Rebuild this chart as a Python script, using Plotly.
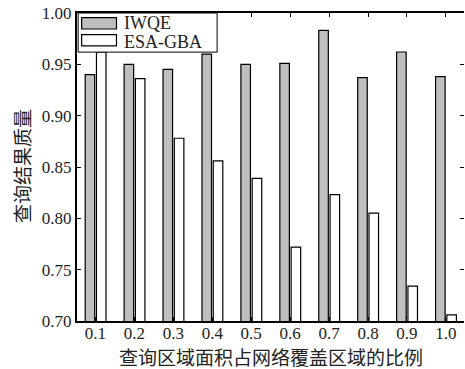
import plotly.graph_objects as go

categories = [0.1, 0.2, 0.3, 0.4, 0.5, 0.6, 0.7, 0.8, 0.9, 1.0]
tick_labels = ["0.1", "0.2", "0.3", "0.4", "0.5", "0.6", "0.7", "0.8", "0.9", "1.0"]
series_names = ["IWQE", "ESA-GBA"]
iwqe = [0.940, 0.950, 0.945, 0.960, 0.950, 0.951, 0.983, 0.937, 0.962, 0.938]
esa_gba = [0.962, 0.936, 0.878, 0.856, 0.839, 0.772, 0.823, 0.805, 0.734, 0.706]
y_ticks = [0.70, 0.75, 0.80, 0.85, 0.90, 0.95, 1.00]
y_tick_labels = ["0.70", "0.75", "0.80", "0.85", "0.90", "0.95", "1.00"]
x_title = "查询区域面积占网络覆盖区域的比例"
y_title = "查询结果质量"

GRAY = "#bebfc3"
SERIF = "Liberation Serif"
CJK = "Noto Sans CJK SC"

fig = go.Figure()
fig.add_trace(go.Bar(x=categories, y=iwqe, name=series_names[0], width=0.0245, offset=-0.0265,
                     marker=dict(color=GRAY, line=dict(color="black", width=1.2)), showlegend=False))
fig.add_trace(go.Bar(x=categories, y=esa_gba, name=series_names[1], width=0.0245, offset=0.0025,
                     marker=dict(color="white", line=dict(color="black", width=1.2)), showlegend=False))
# invisible helper trace for right-side mirrored ticks
fig.add_trace(go.Scatter(x=[categories[0]], y=[y_ticks[0]], yaxis="y2", mode="markers",
                         marker=dict(opacity=0), showlegend=False, hoverinfo="skip"))

xr = [0.0525, 1.0465]
yr = [0.70, 1.00]
fig.update_layout(
    width=465, height=369,
    margin=dict(l=77, r=1, t=13, b=48),
    paper_bgcolor="white", plot_bgcolor="white",
    barmode="overlay",
    xaxis=dict(range=xr, tickvals=categories, ticktext=tick_labels, ticks="inside", ticklen=4,
               tickwidth=1, tickcolor="black", showline=True, linewidth=2, linecolor="black",
               mirror="ticks", showgrid=False, zeroline=False, ticklabelstandoff=-4,
               tickfont=dict(family=SERIF, size=17, color="#222")),
    yaxis=dict(range=yr, tickvals=y_ticks, ticktext=y_tick_labels, ticks="inside", ticklen=4,
               tickwidth=1, tickcolor="black", showline=True, linewidth=2, linecolor="black",
               showgrid=False, zeroline=False,
               tickfont=dict(family=SERIF, size=17, color="#222")),
    yaxis2=dict(range=yr, overlaying="y", side="right", tickvals=y_ticks, ticks="inside",
                ticklen=4, tickwidth=1, tickcolor="black", showticklabels=False,
                showline=False, showgrid=False, zeroline=False),
)

# axis titles
fig.add_annotation(text=x_title, xref="paper", yref="paper", x=0.5, y=-0.114,
                   xanchor="center", yanchor="middle", showarrow=False,
                   font=dict(family=CJK, size=19, color="#222"))
fig.add_annotation(text=y_title, xref="paper", yref="paper", x=-0.145, y=0.503,
                   xanchor="center", yanchor="middle", textangle=-90, showarrow=False,
                   font=dict(family=CJK, size=19, color="#222"))

# legend (drawn manually to match wide patches)
fig.add_shape(type="rect", xref="paper", yref="paper", x0=0.003, x1=0.362, y0=0.873, y1=1.0,
              line=dict(color="black", width=1), fillcolor="white", layer="above")
fills = [GRAY, "white"]
patch_y = [(0.948, 0.985), (0.893, 0.930)]
text_y = [0.969, 0.9075]
for name, fc, (y0, y1), ty in zip(series_names, fills, patch_y, text_y):
    fig.add_shape(type="rect", xref="paper", yref="paper", x0=0.012, x1=0.102, y0=y0, y1=y1,
                  line=dict(color="black", width=1.2), fillcolor=fc, layer="above")
    fig.add_annotation(text=name, xref="paper", yref="paper", x=0.117, y=ty,
                       xanchor="left", yanchor="middle", showarrow=False, height=19,
                       font=dict(family=SERIF, size=18, color="#222"))

fig.write_html("out.html")
